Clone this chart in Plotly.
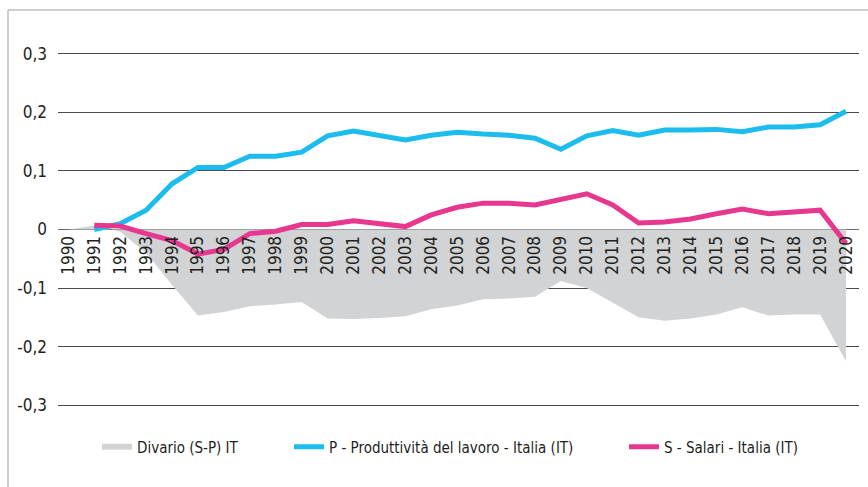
import plotly.graph_objects as go

years = list(range(1990, 2021))

produttivita = [None, 0.0, 0.010, 0.033, 0.078, 0.106, 0.106, 0.125, 0.125, 0.132,
                0.160, 0.168, 0.160, 0.153, 0.161, 0.166, 0.163, 0.161, 0.156, 0.137,
                0.160, 0.169, 0.161, 0.170, 0.170, 0.171, 0.167, 0.175, 0.175, 0.179,
                0.202]

salari = [None, 0.0074, 0.006, -0.007, -0.019, -0.042, -0.034, -0.007, -0.003, 0.0086,
          0.0086, 0.015, 0.009, 0.005, 0.025, 0.038, 0.045, 0.045, 0.042, 0.051,
          0.061, 0.042, 0.011, 0.013, 0.018, 0.027, 0.035, 0.027, 0.029, 0.033,
          -0.024]

divario = [0.0, 0.007, -0.004, -0.040, -0.095, -0.147, -0.141, -0.131, -0.128, -0.124,
           -0.152, -0.153, -0.151, -0.148, -0.136, -0.130, -0.119, -0.118, -0.115, -0.088,
           -0.100, -0.125, -0.150, -0.156, -0.152, -0.145, -0.133, -0.147, -0.145, -0.145,
           -0.225]

y_tickvals = [-0.3, -0.2, -0.1, 0, 0.1, 0.2, 0.3]
y_ticktext = ["-0,3", "-0,2", "-0,1", "0", "0,1", "0,2", "0,3"]

names = ["Divario (S-P) IT",
         "P - Produttività del lavoro - Italia (IT)",
         "S - Salari - Italia (IT)"]

FONT = "Liberation Sans Narrow, DejaVu Sans Condensed, Arial Narrow, Roboto Condensed, sans-serif"
TXT = "#231f20"
BLUE = "#1cbdee"
PINK = "#e8378f"
GRAY = "#d1d3d4"

fig = go.Figure()
fig.add_trace(go.Scatter(x=years, y=divario, mode="none", fill="tozeroy",
                         fillcolor=GRAY, name=names[0], legend="legend"))
fig.add_trace(go.Scatter(x=years, y=produttivita, mode="lines",
                         line=dict(color=BLUE, width=5), name=names[1], legend="legend2"))
fig.add_trace(go.Scatter(x=years, y=salari, mode="lines",
                         line=dict(color=PINK, width=5), name=names[2], legend="legend3"))

W, H = 868, 487
ml, mr, mt, mb = 58, 9, 48, 76
pw, ph = W - ml - mr, H - mt - mb

def px_x(px):
    return (px - ml) / pw

def px_y(py):
    return (H - mb - py) / ph

leg_common = dict(orientation="h", xref="container", yref="container",
                  xanchor="left", yanchor="middle", bgcolor="rgba(0,0,0,0)",
                  font=dict(family=FONT, size=15, color=TXT))

fig.update_layout(
    width=W, height=H,
    margin=dict(l=ml, r=mr, t=mt, b=mb, autoexpand=False),
    paper_bgcolor="white", plot_bgcolor="white",
    font=dict(family=FONT, size=17, color=TXT),
    showlegend=True,
    legend=dict(x=97 / W, y=1 - 447 / H, **leg_common),
    legend2=dict(x=289 / W, y=1 - 447 / H, **leg_common),
    legend3=dict(x=624 / W, y=1 - 447 / H, **leg_common),
    xaxis=dict(range=[1989.6, 2020.5], tickmode="array", tickvals=years,
               ticktext=[str(y) for y in years], tickangle=-90,
               showgrid=False, zeroline=False, showline=False, ticks="",
               anchor="free", position=0.5, ticklabelstandoff=2,
               automargin=False,
               tickfont=dict(family=FONT, size=17, color=TXT)),
    yaxis=dict(range=[-0.31, 0.31], tickmode="array", tickvals=y_tickvals,
               ticktext=y_ticktext, showgrid=True, gridcolor="#4a4a4a", gridwidth=1.2,
               zeroline=True, zerolinecolor="#6a6a6a", zerolinewidth=1.2,
               showline=False, ticks="", ticklabelstandoff=10, automargin=False,
               tickfont=dict(family=FONT, size=17, color=TXT)),
    shapes=[dict(type="line", xref="paper", yref="paper",
                 x0=px_x(8), x1=px_x(8), y0=px_y(10), y1=px_y(495),
                 line=dict(color="#bdbdbd", width=1.5), layer="below"),
            dict(type="line", xref="paper", yref="paper",
                 x0=px_x(8), x1=px_x(880), y0=px_y(10), y1=px_y(10),
                 line=dict(color="#bdbdbd", width=1.5), layer="below")],
)

fig.write_html("out.html",
               config={"displayModeBar": False},
               post_script="document.body.style.margin='0';document.body.style.overflow='hidden';")
